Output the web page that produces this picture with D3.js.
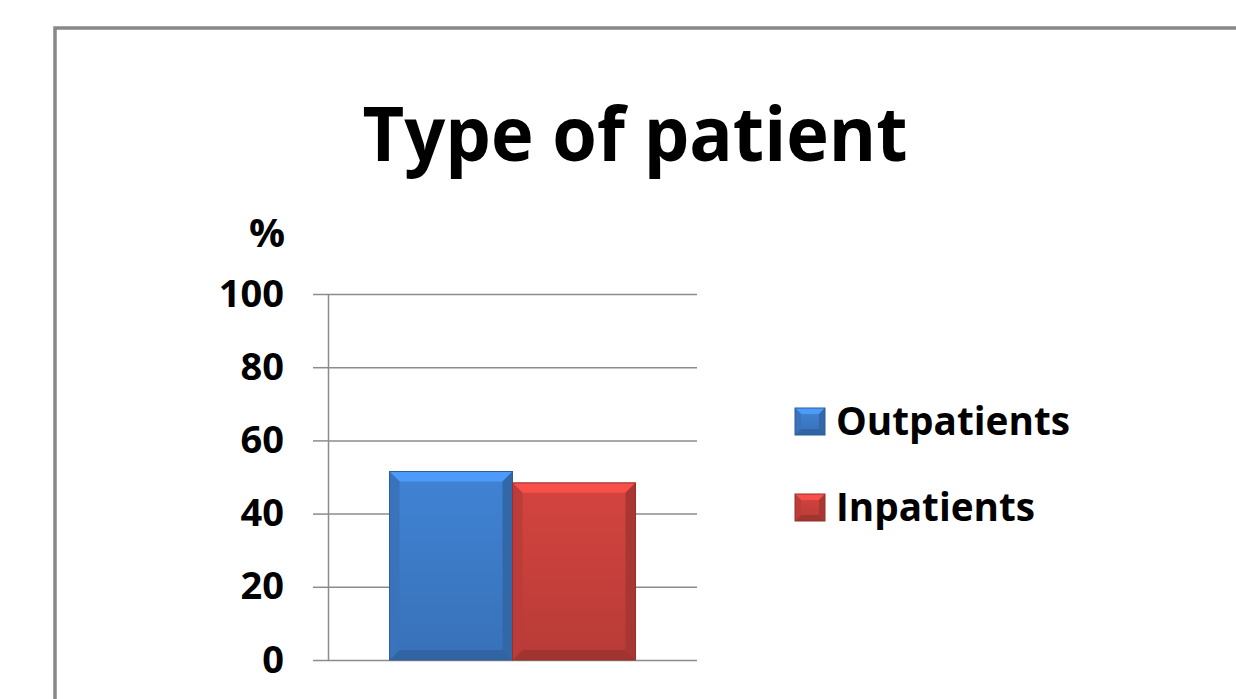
<!DOCTYPE html>
<html>
<head>
<meta charset="utf-8">
<script src="https://cdn.jsdelivr.net/npm/d3@7"></script>
<style>
  body { margin: 0; background: #fff; }
  svg { display: block; font-family: "Open Sans", "Noto Sans", sans-serif; }
</style>
</head>
<body>
<div id="chart"></div>
<script>
// chart data
const categories = ['Type of patient'];
const seriesNames = ['Outpatients', 'Inpatients'];
const seriesValues = [51.5, 48.4];
const yTicks = [0, 20, 40, 60, 80, 100];
const seriesColors = ['#3d7cc9', '#c9403c'];

const width = 1236, height = 699;

const svg = d3.select('#chart').append('svg')
    .attr('width', width)
    .attr('height', height);

// outer frame (runs off the right and bottom edges)
svg.append('rect')
    .attr('x', 55).attr('y', 28)
    .attr('width', 1300).attr('height', 800)
    .attr('fill', '#fff')
    .attr('stroke', '#888')
    .attr('stroke-width', 3.5);

// title
svg.append('text')
    .attr('x', 635).attr('y', 161)
    .attr('text-anchor', 'middle')
    .style('font-size', '76px')
    .style('font-weight', 700)
    .attr('textLength', 545)
    .attr('lengthAdjust', 'spacingAndGlyphs')
    .text('Type of patient');

// scales
const y = d3.scaleLinear().domain([0, 100]).range([660, 294]);
const x0 = d3.scaleBand().domain(categories).range([328, 697]).paddingInner(0).paddingOuter(0.25);
const x1 = d3.scaleBand().domain(seriesNames).range([0, x0.bandwidth()]);

// gridlines
svg.append('g')
    .attr('transform', 'translate(328,0)')
    .call(d3.axisLeft(y).tickValues(yTicks).tickSize(-369).tickSizeOuter(0).tickFormat(''))
    .call(g => g.select('.domain').remove())
    .call(g => g.selectAll('.tick line').attr('stroke', '#8c8c8c').attr('stroke-width', 1.5));

// y axis
const yAxis = svg.append('g')
    .attr('transform', 'translate(328,0)')
    .call(d3.axisLeft(y).tickValues(yTicks).tickSize(15).tickSizeOuter(0).tickPadding(29));
yAxis.select('.domain').attr('stroke', '#8c8c8c').attr('stroke-width', 1.5);
yAxis.selectAll('.tick line').attr('stroke', '#8c8c8c').attr('stroke-width', 1.5);
yAxis.selectAll('.tick text')
    .attr('fill', '#000')
    .style('font-family', '"Open Sans", "Noto Sans", sans-serif')
    .style('font-size', '38px')
    .style('font-weight', 700);

svg.append('text')
    .attr('x', 267).attr('y', 247)
    .attr('text-anchor', 'middle')
    .style('font-size', '40px')
    .style('font-weight', 700)
    .text('%');

// gradients for bevelled bars
const defs = svg.append('defs');
seriesColors.forEach((c, i) => {
    const g = defs.append('linearGradient').attr('id', 'grad' + i)
        .attr('x1', 0).attr('y1', 0).attr('x2', 0).attr('y2', 1);
    g.append('stop').attr('offset', '0%').attr('stop-color', d3.color(c).brighter(0.15));
    g.append('stop').attr('offset', '100%').attr('stop-color', d3.color(c).darker(0.25));
});

function bevel(sel, x, yTop, w, h, c, gid, b) {
    const yb = yTop + h;
    sel.append('rect').attr('x', x).attr('y', yTop).attr('width', w).attr('height', h)
        .attr('fill', `url(#${gid})`);
    // top facet
    sel.append('polygon')
        .attr('points', [[x, yTop], [x + w, yTop], [x + w - b, yTop + b], [x + b, yTop + b]].join(' '))
        .attr('fill', d3.color(c).brighter(0.6));
    // bottom facet
    sel.append('polygon')
        .attr('points', [[x, yb], [x + w, yb], [x + w - b, yb - b], [x + b, yb - b]].join(' '))
        .attr('fill', d3.color(c).darker(0.6));
    // left facet
    sel.append('polygon')
        .attr('points', [[x, yTop], [x + b, yTop + b], [x + b, yb - b], [x, yb]].join(' '))
        .attr('fill', d3.color(c).darker(0.2));
    // right facet
    sel.append('polygon')
        .attr('points', [[x + w, yTop], [x + w - b, yTop + b], [x + w - b, yb - b], [x + w, yb]].join(' '))
        .attr('fill', d3.color(c).darker(0.5));
    sel.append('rect').attr('x', x).attr('y', yTop).attr('width', w).attr('height', h)
        .attr('fill', 'none').attr('stroke', d3.color(c).darker(0.8)).attr('stroke-width', 1);
}

const bars = svg.append('g');
seriesNames.forEach((name, i) => {
    const bx = x0(categories[0]) + x1(name);
    const by = y(seriesValues[i]);
    bevel(bars.append('g'), bx, by, x1.bandwidth(), y(0) - by, seriesColors[i], 'grad' + i, 10);
});

// legend
const legend = svg.append('g').attr('transform', 'translate(795,408)');
const legendWidths = [234, 199];
seriesNames.forEach((name, i) => {
    const g = legend.append('g').attr('transform', `translate(0, ${i * 86})`);
    bevel(g, 0, 0, 30, 27, seriesColors[i], 'grad' + i, 6);
    g.append('text')
        .attr('x', 41).attr('y', 27)
        .style('font-size', '39px')
        .style('font-weight', 700)
        .attr('textLength', legendWidths[i])
        .attr('lengthAdjust', 'spacingAndGlyphs')
        .text(name);
});
</script>
</body>
</html>
